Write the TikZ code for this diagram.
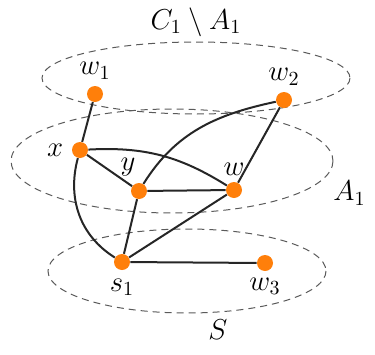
\documentclass[tikz,border=0pt]{standalone}
\usepackage{tikz}
\usetikzlibrary{arrows.meta,positioning}
\usepackage{amsmath}
\usepackage{amssymb}
\definecolor{dotorange}{RGB}{255,127,10}
\definecolor{ringgray}{RGB}{90,90,90}

\begin{document}
\begin{tikzpicture}[
  x=0.5pt, y=-0.5pt,
  every label/.style={font=\Large, inner sep=1pt},
  vtx/.style={circle, fill=dotorange, inner sep=0pt, minimum size=8pt},
  ring/.style={draw=ringgray, dashed, line width=0.5pt, dash pattern=on 3.5pt off 2.5pt},
  edge/.style={draw=black!85, line width=1pt},
  lbl/.style={inner sep=0pt, font=\Large}
]
\useasboundingbox (0,0) rectangle (375,354);

% the three sets
\draw[ring] (196,78) ellipse [x radius=154, y radius=36];
\draw[ring] (172,161) ellipse [x radius=161, y radius=52];
\draw[ring] (187,271) ellipse [x radius=139, y radius=42];

\node[lbl] (top) at (196,22) {$C_1 \setminus A_1$};
\node[lbl, anchor=west] (mid) at (333,193) {$A_1$};
\node[lbl] (bot) at (218,330) {$S$};

% vertices
\node[vtx, label={[label distance=2pt]above:$w_1$}] (w1) at (95,94) {};
\node[vtx, label={[label distance=2pt]above:$w_2$}] (w2) at (284,100) {};
\node[vtx, label={[label distance=3pt]left:$x$}] (x) at (80,150) {};
\node[vtx, label={[label distance=2pt]96:$y$}] (y) at (139,191) {};
\node[vtx, label={[label distance=2pt]above:$w$}] (w) at (234,190) {};
\node[vtx, label={[label distance=3pt]below:$s_1$}] (s1) at (122,262) {};
\node[vtx, label={[label distance=2pt]below:$w_3$}] (w3) at (265,263) {};

% edges
\draw[edge] (w1) -- (x);
\draw[edge] (x) -- (y);
\draw[edge] (x) to[out=3, in=148] (w);
\draw[edge] (x) to[out=-105, in=148] (s1);
\draw[edge] (y) to[out=58, in=192] (w2);
\draw[edge] (w) -- (w2);
\draw[edge] (y) -- (w);
\draw[edge] (y) -- (s1);
\draw[edge] (w) -- (s1);
\draw[edge] (s1) -- (w3);
\end{tikzpicture}
\end{document}
